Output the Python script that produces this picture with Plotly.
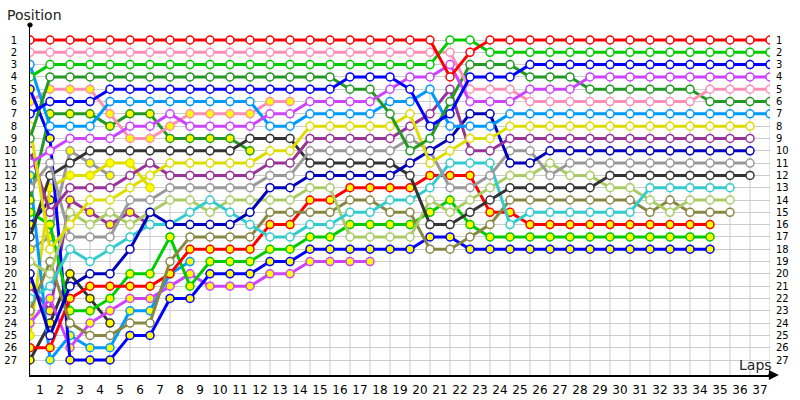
import plotly.graph_objects as go

laps = list(range(38))
lap_labels = [str(k) for k in range(1, 38)]
positions = list(range(1, 28))

# ---- drivers (position per lap, lap 0 = grid) ----
red_w = [1]*21 + [4, 2] + [1]*15
green_w = [4] + [3]*20 + [1, 1] + [2]*15
pink_w = [2]*22 + [5]*3 + [6]*9 + [5]*4
blue_w = [7, 6, 6, 6] + [5]*12 + [4]*3 + [5, 8, 7] + [4]*3 + [3]*13
magenta_w = [11, 10, 9, 9, 9, 8, 8, 7, 8, 8, 8, 8, 7, 7, 6, 6, 6, 6, 5, 4, 4, 3, 6, 6, 6, 5, 5, 5] + [4]*10
dgreen_w = [9] + [4]*15 + [5, 5, 7, 10, 9, 6, 3, 3, 3, 4, 4, 4] + [5]*6 + [6]*4
lblue_w = [3, 8, 8, 8] + [6]*8 + [8, 8] + [7]*4 + [6, 6, 5, 8, 8, 8] + [7]*14
yellow_w = [8, 18, 16, 14, 14, 13, 12, 11, 11, 11, 11, 11, 10, 10, 8, 8, 8, 8, 8, 7, 11, 10, 9, 9] + [8]*13
purple_w = [10, 15, 13, 13, 13, 12, 11, 12, 12, 12, 12, 12, 11, 11, 9, 9, 9, 9, 9, 8, 7, 5, 10, 10] + [9]*13
navy_w = [20, 25, 21, 20, 20, 18, 15, 16, 16, 16, 16, 15, 13, 13, 12, 12, 12, 12, 12, 11, 10, 9, 7, 7, 11, 11] + [10]*11
gray_w = [13, 11, 17, 17, 17, 14, 14, 13, 13, 13, 13, 13, 12, 12, 10, 10, 10, 10, 10, 9, 10, 13, 13, 12, 10, 10, 12] + [11]*10
dgray_w = [17, 12, 11] + [10]*8 + [9]*3 + [11]*5 + [12, 16, 16, 15, 14] + [13]*5 + [12]*8
cyan_w = [22, 21, 18, 19, 18, 17, 16, 16, 15, 14, 15, 16, 17, 17, 16, 16, 15, 15, 14, 14, 13, 11, 11, 11, 16] + [15]*6 + [13]*5
lolive_w = [19, 20, 15, 16, 15, 16, 15, 14, 14, 15, 14, 14, 14, 14, 13, 13, 17, 17, 17, 17, 14, 15, 14, 13, 12, 12, 11, 12, 12, 13, 13, 14, 15, 14, 14, 14]
olive_w = [23, 19, 24, 25, 25, 24, 24, 19, 17, 17, 17, 17, 15, 15, 15, 15, 14, 14, 15, 15, 18, 18, 17, 16] + [14]*7 + [15, 14, 15, 15, 15]
red_y = [26, 26, 22, 21, 21, 21, 21, 20, 18, 18, 18, 18, 16, 16, 14, 14, 13, 13, 13, 13, 12, 12, 12, 15, 15] + [16]*10
green_y = [15, 16, 23, 23, 22, 20, 20, 17, 21, 19, 19, 19, 18, 18, 17, 17, 16, 16, 16, 16, 15, 14, 16] + [17]*12
blue_y = [5, 9, 27, 27, 27, 25, 25, 22, 22, 20, 20, 20, 19, 19, 18, 18, 18, 18, 18, 18, 17, 17] + [18]*13
magenta_y = [24, 22, 26, 24, 23, 22, 22, 21, 20, 21, 21, 21, 20, 20, 19, 19, 19, 19]
pink_y = [6, 5, 5, 5, 7, 9, 9, 8, 7, 7, 7, 7, 6, 6]
dgreen_y = [14, 7, 7, 7, 8, 7, 7, 9, 9, 9, 9, 10]
lblue_y = [12, 27, 25, 26, 26, 23, 23, 20, 19]
dgray_y = [27, 24, 20, 22, 24]
purple_y = [21, 23, 14, 15, 16, 15, 16]
yellow_y = [25, 13, 12, 12, 11, 11, 13]
gray_y = [18, 17, 10, 11, 12]
navy_y = [16, 14]

drivers = [
    (red_w, "#FF0000", "white"), (green_w, "#00CC00", "white"), (blue_w, "#0000FF", "white"),
    (magenta_w, "#CC44FF", "white"), (pink_w, "#FF8FB4", "white"), (dgreen_w, "#229922", "white"),
    (lblue_w, "#0099FF", "white"), (yellow_w, "#DDDD00", "white"), (purple_w, "#993399", "white"),
    (navy_w, "#0000BB", "white"), (gray_w, "#999999", "white"), (dgray_w, "#333333", "white"),
    (cyan_w, "#33CCCC", "white"), (lolive_w, "#AACC66", "white"), (olive_w, "#888844", "white"),
    (red_y, "#FF0000", "#FFFF00"), (green_y, "#00CC00", "#FFFF00"), (blue_y, "#0000FF", "#FFFF00"),
    (magenta_y, "#CC44FF", "#FFFF00"), (pink_y, "#FF8FB4", "#FFFF00"), (dgreen_y, "#229922", "#FFFF00"),
    (lblue_y, "#0099FF", "#FFFF00"), (dgray_y, "#333333", "#FFFF00"), (purple_y, "#993399", "#FFFF00"),
    (yellow_y, "#DDDD00", "#FFFF00"), (gray_y, "#999999", "#FFFF00"), (navy_y, "#0000BB", "#FFFF00"),
]

fig = go.Figure()
for series, col, fill in reversed(drivers):
    fig.add_trace(go.Scatter(
        x=laps[:len(series)], y=series, mode="lines+markers",
        line=dict(color=col, width=3),
        marker=dict(size=8, color=fill, line=dict(color=col, width=1.5)),
        hoverinfo="skip", showlegend=False,
    ))

# invisible trace for right-hand axis
fig.add_trace(go.Scatter(x=[0], y=[1], yaxis="y2", mode="markers",
                         marker=dict(opacity=0), showlegend=False, hoverinfo="skip"))

y_bottom = 27 + 15/12.31
yr = [y_bottom, 1 - 15/12.31]

# vertical grid lines from the first row down to the axis
grid_shapes = [dict(type="line", xref="x", yref="y", x0=k, x1=k, y0=positions[0], y1=y_bottom,
                    line=dict(color="#CCCCCC", width=1), layer="below") for k in laps]
grid_shapes.append(dict(type="circle", xref="paper", yref="paper", x0=-0.003, x1=0.003,
                        y0=0.994, y1=1.006, fillcolor="#000000", line=dict(color="#000000", width=1)))

fig.update_layout(
    width=800, height=400,
    margin=dict(l=30, r=30, t=25, b=25, autoexpand=False),
    paper_bgcolor="white", plot_bgcolor="white",
    font=dict(family="DejaVu Sans", size=11, color="#000000"),
    shapes=grid_shapes,
    xaxis=dict(range=[0, 37], tickmode="array", automargin=False,
               tickvals=[k - 0.5 for k in range(1, 38)], ticktext=lap_labels,
               showgrid=False, zeroline=False, showline=True, linecolor="#000000", linewidth=2,
               ticks="", ticklabelstandoff=3, tickfont=dict(family="DejaVu Sans", size=12)),
    yaxis=dict(range=yr, tickmode="array", tickvals=positions, automargin=False,
               ticktext=[str(p) for p in positions],
               showgrid=True, gridcolor="#CCCCCC", gridwidth=1, zeroline=False,
               showline=True, linecolor="#000000", linewidth=1, ticks="", ticklabelstandoff=10,
               tickfont=dict(family="DejaVu Sans", size=10)),
    yaxis2=dict(range=yr, overlaying="y", side="right", tickmode="array", tickvals=positions,
                automargin=False, ticktext=[str(p) for p in positions], showgrid=False,
                zeroline=False, showline=False, ticks="", ticklabelstandoff=5,
                tickfont=dict(family="DejaVu Sans", size=10)),
    annotations=[
        dict(text="Position", xref="paper", yref="paper", x=-0.034, y=1.0, xanchor="left",
             yanchor="bottom", showarrow=False, font=dict(family="DejaVu Sans", size=14, color="#222222"),
             yshift=0),
        dict(text="Laps", xref="paper", yref="paper", x=1.006, y=0.0, xanchor="right",
             yanchor="bottom", showarrow=False, font=dict(family="DejaVu Sans", size=14, color="#222222"),
             yshift=0),
        dict(x=1.012, y=0, xref="paper", yref="paper", ax=-12, ay=0, axref="pixel", ayref="pixel",
             showarrow=True, arrowhead=2, arrowsize=1, arrowwidth=2, arrowcolor="#000000", text=""),
    ],
)
fig.write_html("out.html", config={"displayModeBar": False, "staticPlot": True},
               post_script="document.body.style.margin='0px';document.body.style.overflow='hidden';")
